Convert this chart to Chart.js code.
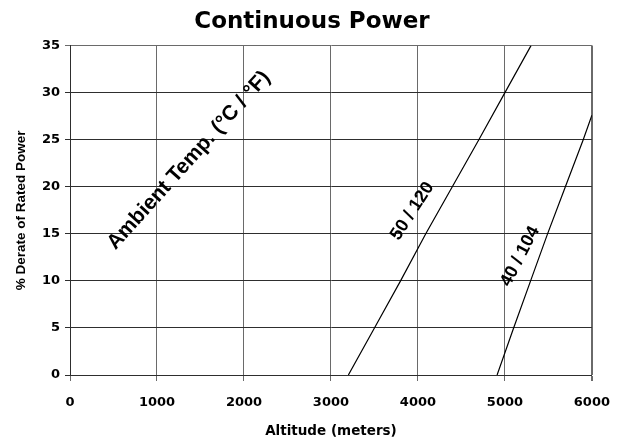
<!DOCTYPE html>
<html lang="en">
<head>
    <meta charset="UTF-8">
    <title>Continuous Power</title>
    <script src="https://cdn.jsdelivr.net/npm/chart.js"></script>
    <style>
        body { margin: 0; background: #fff; }
    </style>
</head>
<body>
    <canvas id="derateChart" width="624" height="443"></canvas>

    <script>
        // Derate curves (altitude in meters, % derate)
        const altitude50 = [3200, 3500, 3800, 4090, 4395, 4700, 5000, 5300];
        const derate50 = [0, 5, 10, 15, 20, 25, 30, 35];
        const altitude40 = [4910, 5100, 5295, 5490, 5695, 5900, 6000];
        const derate40 = [0, 5, 10, 15, 20, 25, 27.6];

        const xTicks = [0, 1000, 2000, 3000, 4000, 5000, 6000];
        const yTicks = [0, 5, 10, 15, 20, 25, 30, 35];

        // Text labels written on the plot
        const labelTexts = ['Ambient Temp. (\u00B0C / \u00B0F)', '50 / 120', '40 / 104'];
        // where they sit (data coords), their angle and size
        const labelPlacement = [
            { x: 1366, y: 22.8, angle: -48, size: 21 },
            { x: 3935, y: 17.4, angle: -57, size: 18 },
            { x: 5175, y: 12.6, angle: -62.5, size: 18 }
        ];

        const wideFont = '"DejaVu Sans", sans-serif';
        const arialFont = '"Liberation Sans", Arial, sans-serif';
        const xGridColor = '#6a6a6a';
        const yGridColor = '#2e2e2e';

        const toPoints = (xs, ys) => xs.map((x, i) => ({ x: x, y: ys[i] }));

        // draws the rotated labels inside the plot
        const plotLabels = {
            id: 'plotLabels',
            afterDatasetsDraw(chart) {
                const ctx = chart.ctx;
                const xs = chart.scales.x;
                const ys = chart.scales.y;
                labelTexts.forEach((text, i) => {
                    const p = labelPlacement[i];
                    ctx.save();
                    ctx.translate(xs.getPixelForValue(p.x), ys.getPixelForValue(p.y));
                    ctx.rotate(p.angle * Math.PI / 180);
                    ctx.font = 'bold ' + p.size + 'px ' + arialFont;
                    ctx.fillStyle = '#000';
                    ctx.textAlign = 'center';
                    ctx.textBaseline = 'middle';
                    ctx.fillText(text, 0, 0);
                    ctx.restore();
                });
            }
        };

        const ctx = document.getElementById('derateChart').getContext('2d');
        const derateChart = new Chart(ctx, {
            type: 'scatter',
            data: {
                datasets: [{
                    label: '50 / 120',
                    data: toPoints(altitude50, derate50),
                    showLine: true,
                    borderColor: '#000',
                    borderWidth: 1.2,
                    pointRadius: 0,
                    tension: 0
                }, {
                    label: '40 / 104',
                    data: toPoints(altitude40, derate40),
                    showLine: true,
                    borderColor: '#000',
                    borderWidth: 1.2,
                    pointRadius: 0,
                    tension: 0
                }]
            },
            options: {
                responsive: false,
                animation: false,
                layout: { padding: 0 },
                scales: {
                    x: {
                        type: 'linear',
                        min: 0,
                        max: 6000,
                        afterBuildTicks: (scale) => { scale.ticks = xTicks.map(v => ({ value: v })); },
                        afterFit: (scale) => { scale.height = 68; },
                        grid: {
                            color: xGridColor,
                            tickLength: 6,
                            lineWidth: (c) => (c.tick && c.tick.value === 6000 ? 2 : 1)
                        },
                        border: { color: yGridColor },
                        ticks: {
                            padding: 14,
                            color: '#000',
                            callback: (v) => String(v),
                            font: { family: wideFont, size: 13, weight: 'bold' }
                        },
                        title: {
                            display: true,
                            text: 'Altitude (meters)',
                            color: '#000',
                            padding: { top: 0, bottom: 3 },
                            font: { family: wideFont, size: 13.5, weight: 'bold' }
                        }
                    },
                    y: {
                        type: 'linear',
                        min: 0,
                        max: 35,
                        afterBuildTicks: (scale) => { scale.ticks = yTicks.map(v => ({ value: v })); },
                        afterFit: (scale) => { scale.width = 70; },
                        grid: {
                            color: (c) => (c.tick && c.tick.value === 35 ? xGridColor : yGridColor),
                            tickLength: 5,
                            lineWidth: 1
                        },
                        border: { color: yGridColor },
                        ticks: {
                            padding: 5,
                            color: '#000',
                            callback: (v) => String(v),
                            font: { family: wideFont, size: 13, weight: 'bold' }
                        },
                        title: {
                            display: true,
                            text: '% Derate of Rated Power',
                            color: '#000',
                            padding: { top: 13, bottom: 0 },
                            font: { family: arialFont, size: 13.5, weight: 'bold' }
                        }
                    },
                    // empty right-hand axis, only keeps a margin so the title stays centred on the page
                    yRight: {
                        type: 'linear',
                        position: 'right',
                        min: 0,
                        max: 35,
                        afterFit: (scale) => { scale.width = 29; },
                        grid: { display: false, drawTicks: false },
                        border: { display: false },
                        ticks: { display: false }
                    }
                },
                plugins: {
                    legend: { display: false },
                    tooltip: { enabled: false },
                    title: {
                        display: true,
                        text: 'Continuous Power',
                        color: '#000',
                        padding: { top: 8, bottom: 10 },
                        font: { family: wideFont, size: 23, weight: 'bold' }
                    }
                }
            },
            plugins: [plotLabels]
        });
    </script>
</body>
</html>
